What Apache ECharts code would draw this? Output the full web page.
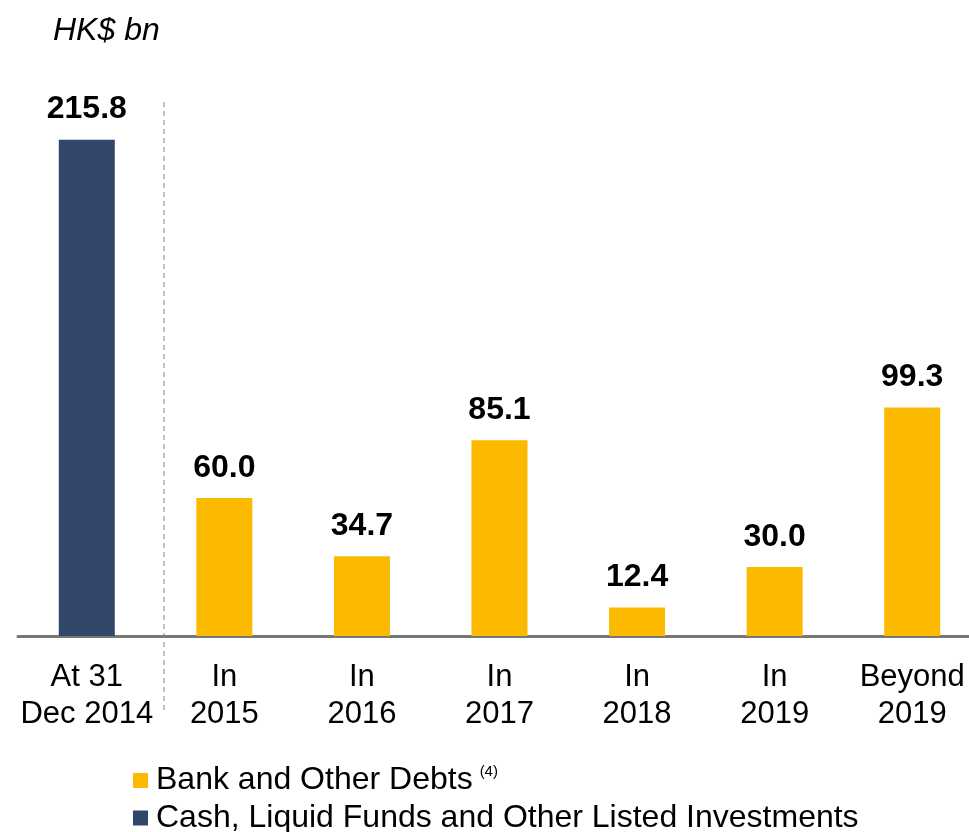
<!DOCTYPE html>
<html>
<head>
<meta charset="utf-8">
<script src="https://cdn.jsdelivr.net/npm/echarts@6/dist/echarts.min.js"></script>
<style>
  html, body { margin: 0; padding: 0; background: #fff; }
  #chart { width: 969px; height: 832px; }
</style>
</head>
<body>
<div id="chart"></div>
<script>
  // categories and values
  var categories = ['At 31\nDec 2014', 'In\n2015', 'In\n2016', 'In\n2017', 'In\n2018', 'In\n2019', 'Beyond\n2019'];
  var debts = ['-', 60.0, 34.7, 85.1, 12.4, 30.0, 99.3];
  var cash = [215.8, '-', '-', '-', '-', '-', '-'];

  var FONT = 'Arial, "Liberation Sans", sans-serif';

  var chart = echarts.init(document.getElementById('chart'));

  var labelStyle = {
    show: true,
    position: 'top',
    distance: 14,
    color: '#000',
    fontFamily: FONT,
    fontWeight: 'bold',
    fontSize: 32,
    formatter: function (p) { return p.value.toFixed(1); }
  };

  var legendText = {
    color: '#000',
    fontFamily: FONT,
    fontSize: 32,
    padding: [0, 0, 0, 3],
    rich: {
      sup: { fontSize: 15, fontFamily: FONT, color: '#000', verticalAlign: 'bottom', padding: [0, 0, 18, 7] }
    }
  };

  var option = {
    animation: false,
    grid: { left: 18, right: -12, top: 107, bottom: 196, outerBoundsMode: 'none' },
    graphic: [
      {
        type: 'text',
        left: 53, top: 15,
        style: { text: 'HK$ bn', fontFamily: FONT, fontStyle: 'italic', fontSize: 32, fill: '#000' }
      },
      {
        // dashed separator between the first column and the rest
        type: 'line',
        shape: { x1: 164, y1: 102, x2: 164, y2: 712 },
        style: { stroke: '#808080', lineWidth: 1, lineDash: [5, 4] },
        z: 10
      }
    ],
    legend: [
      {
        left: 128, top: 759,
        itemWidth: 15, itemHeight: 15,
        icon: 'rect',
        data: ['Bank and Other Debts'],
        formatter: function (name) { return name + '{sup|(4)}'; },
        textStyle: legendText
      },
      {
        left: 128, top: 797,
        itemWidth: 15, itemHeight: 15,
        icon: 'rect',
        data: ['Cash, Liquid Funds and Other Listed Investments'],
        textStyle: legendText
      }
    ],
    xAxis: {
      type: 'category',
      data: categories,
      axisLine: { show: true, lineStyle: { color: '#777', width: 3 } },
      axisTick: { show: false },
      axisLabel: {
        color: '#000',
        fontFamily: FONT,
        fontSize: 31,
        lineHeight: 37,
        margin: 23,
        interval: 0
      }
    },
    yAxis: {
      type: 'value',
      min: 0,
      max: 230,
      show: false,
      splitLine: { show: false }
    },
    series: [
      {
        name: 'Bank and Other Debts',
        type: 'bar',
        stack: 'all',
        barWidth: 56,
        data: debts,
        itemStyle: { color: '#fbb900' },
        label: labelStyle
      },
      {
        name: 'Cash, Liquid Funds and Other Listed Investments',
        type: 'bar',
        stack: 'all',
        barWidth: 56,
        data: cash,
        itemStyle: { color: '#32466a' },
        label: labelStyle
      }
    ]
  };

  chart.setOption(option);
</script>
</body>
</html>
